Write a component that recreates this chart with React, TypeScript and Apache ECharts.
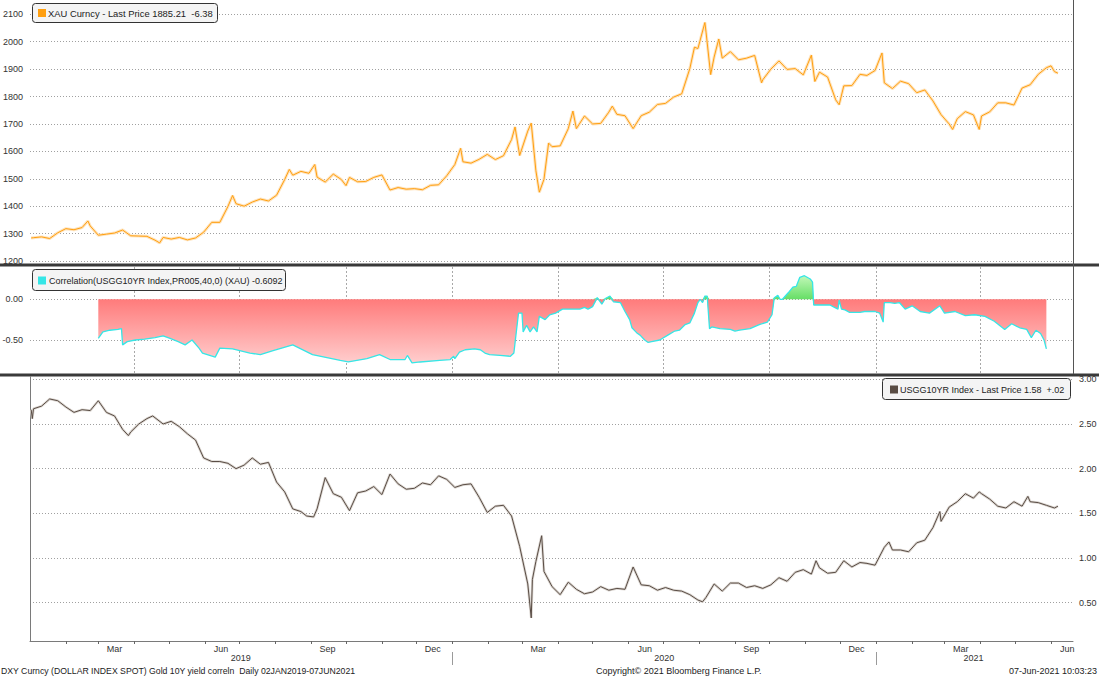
import { useEffect, useRef } from 'react';
import * as echarts from 'echarts';

// ---------- axis range (calendar days) ----------
const AXIS_START = '2019-01-01';
const AXIS_END = '2021-06-20';

// ---------- tick / label definitions ----------
const monthLabelNames: Record<string, string> = { '03': 'Mar', '06': 'Jun', '09': 'Sep', '12': 'Dec' };
const yearLabelDates = ['2019-07-02', '2020-07-02', '2021-03-26'];
const yearDividerDates = ['2020-01-01', '2021-01-01'];
const quarterMonths = ['01', '04', '07', '10'];

const goldTicks = [1200, 2100, 100];
const corrTicks = [-1, 0.5, 0.5];
const yieldTicks = [0, 3, 0.5];

// ---------- legend / footer texts ----------
const goldLegend = 'XAU Curncy - Last Price 1885.21  -6.38';
const corrLegend = 'Correlation(USGG10YR Index,PR005,40,0) (XAU) -0.6092';
const yieldLegend = 'USGG10YR Index - Last Price 1.58  +.02';
const footerLeft = 'DXY Curncy (DOLLAR INDEX SPOT) Gold 10Y yield correln  Daily 02JAN2019-07JUN2021';
const footerMid = 'Copyright\u00A9 2021 Bloomberg Finance L.P.';
const footerRight = '07-Jun-2021 10:03:23';

// ---------- XAU price ----------
const goldData: [string, number][] = [
  ['2019-01-02', 1284], ['2019-01-04', 1285], ['2019-01-11', 1288], ['2019-01-18', 1282],
  ['2019-01-25', 1303], ['2019-02-01', 1318], ['2019-02-08', 1314], ['2019-02-15', 1322],
  ['2019-02-20', 1346], ['2019-02-22', 1328], ['2019-03-01', 1294], ['2019-03-08', 1298],
  ['2019-03-15', 1302], ['2019-03-22', 1313], ['2019-03-29', 1292], ['2019-04-05', 1291],
  ['2019-04-12', 1290], ['2019-04-19', 1276], ['2019-04-23', 1266], ['2019-04-26', 1286],
  ['2019-05-03', 1280], ['2019-05-10', 1286], ['2019-05-17', 1277], ['2019-05-24', 1284],
  ['2019-05-31', 1305], ['2019-06-07', 1341], ['2019-06-14', 1341], ['2019-06-21', 1399],
  ['2019-06-25', 1439], ['2019-06-28', 1409], ['2019-07-05', 1400], ['2019-07-12', 1415],
  ['2019-07-19', 1426], ['2019-07-26', 1419], ['2019-08-02', 1440], ['2019-08-09', 1497],
  ['2019-08-13', 1534], ['2019-08-16', 1513], ['2019-08-23', 1527], ['2019-08-30', 1520],
  ['2019-09-04', 1552], ['2019-09-06', 1506], ['2019-09-13', 1488], ['2019-09-20', 1517],
  ['2019-09-27', 1497], ['2019-10-01', 1475], ['2019-10-04', 1505], ['2019-10-11', 1489],
  ['2019-10-18', 1490], ['2019-10-25', 1505], ['2019-11-01', 1514], ['2019-11-08', 1459],
  ['2019-11-15', 1468], ['2019-11-22', 1462], ['2019-11-29', 1464], ['2019-12-06', 1460],
  ['2019-12-13', 1476], ['2019-12-20', 1478], ['2019-12-27', 1511], ['2020-01-03', 1552],
  ['2020-01-08', 1611], ['2020-01-10', 1562], ['2020-01-17', 1557], ['2020-01-24', 1571],
  ['2020-01-31', 1589], ['2020-02-07', 1570], ['2020-02-14', 1584], ['2020-02-21', 1643],
  ['2020-02-24', 1689], ['2020-02-28', 1585], ['2020-03-06', 1674], ['2020-03-09', 1703],
  ['2020-03-13', 1530], ['2020-03-16', 1451], ['2020-03-20', 1498], ['2020-03-24', 1630],
  ['2020-03-27', 1617], ['2020-04-03', 1620], ['2020-04-10', 1683], ['2020-04-14', 1747],
  ['2020-04-17', 1683], ['2020-04-24', 1729], ['2020-05-01', 1700], ['2020-05-08', 1702],
  ['2020-05-15', 1743], ['2020-05-18', 1765], ['2020-05-22', 1735], ['2020-05-29', 1730],
  ['2020-06-05', 1683], ['2020-06-12', 1730], ['2020-06-19', 1743], ['2020-06-26', 1771],
  ['2020-07-03', 1775], ['2020-07-10', 1798], ['2020-07-17', 1810], ['2020-07-24', 1902],
  ['2020-07-28', 1980], ['2020-07-31', 1975], ['2020-08-06', 2070], ['2020-08-07', 2035],
  ['2020-08-11', 1880], ['2020-08-14', 1944], ['2020-08-18', 2010], ['2020-08-21', 1940],
  ['2020-08-28', 1964], ['2020-09-04', 1934], ['2020-09-11', 1940], ['2020-09-18', 1950],
  ['2020-09-24', 1850], ['2020-09-25', 1861], ['2020-10-02', 1900], ['2020-10-09', 1930],
  ['2020-10-16', 1899], ['2020-10-23', 1902], ['2020-10-30', 1879], ['2020-11-06', 1951],
  ['2020-11-09', 1855], ['2020-11-13', 1889], ['2020-11-20', 1871], ['2020-11-27', 1788],
  ['2020-11-30', 1770], ['2020-12-04', 1839], ['2020-12-11', 1840], ['2020-12-18', 1881],
  ['2020-12-24', 1877], ['2020-12-31', 1895], ['2021-01-06', 1959], ['2021-01-08', 1850],
  ['2021-01-15', 1829], ['2021-01-22', 1856], ['2021-01-29', 1847], ['2021-02-05', 1814],
  ['2021-02-12', 1824], ['2021-02-19', 1784], ['2021-02-26', 1734], ['2021-03-05', 1700],
  ['2021-03-08', 1680], ['2021-03-12', 1719], ['2021-03-19', 1745], ['2021-03-26', 1733],
  ['2021-03-31', 1680], ['2021-04-02', 1729], ['2021-04-09', 1744], ['2021-04-16', 1777],
  ['2021-04-23', 1777], ['2021-04-30', 1769], ['2021-05-07', 1831], ['2021-05-14', 1843],
  ['2021-05-21', 1881], ['2021-05-28', 1905], ['2021-06-01', 1912], ['2021-06-04', 1891],
  ['2021-06-07', 1885],
];

// ---------- rolling correlation ----------
const corrData: [string, number][] = [
  ['2019-03-01', -0.48], ['2019-03-05', -0.40], ['2019-03-11', -0.38], ['2019-03-18', -0.37],
  ['2019-03-21', -0.36], ['2019-03-22', -0.56], ['2019-03-26', -0.52], ['2019-04-02', -0.50],
  ['2019-04-10', -0.49], ['2019-04-19', -0.47], ['2019-04-26', -0.45], ['2019-05-02', -0.48],
  ['2019-05-09', -0.52], ['2019-05-15', -0.56], ['2019-05-21', -0.50], ['2019-05-27', -0.60],
  ['2019-05-30', -0.66], ['2019-06-10', -0.71], ['2019-06-14', -0.60], ['2019-06-25', -0.61],
  ['2019-07-10', -0.66], ['2019-07-19', -0.68], ['2019-07-30', -0.63], ['2019-08-16', -0.56],
  ['2019-09-02', -0.68], ['2019-09-26', -0.75], ['2019-10-03', -0.77], ['2019-10-19', -0.73],
  ['2019-10-30', -0.68], ['2019-11-08', -0.74], ['2019-11-21', -0.74], ['2019-11-23', -0.69],
  ['2019-11-27', -0.78], ['2019-12-04', -0.77], ['2019-12-21', -0.75], ['2019-12-30', -0.74],
  ['2020-01-02', -0.70], ['2020-01-03', -0.73], ['2020-01-07', -0.65], ['2020-01-12', -0.62],
  ['2020-01-20', -0.61], ['2020-01-25', -0.62], ['2020-01-29', -0.66], ['2020-02-02', -0.68],
  ['2020-02-11', -0.69], ['2020-02-20', -0.70], ['2020-02-23', -0.66], ['2020-02-27', -0.17],
  ['2020-03-01', -0.17], ['2020-03-02', -0.40], ['2020-03-05', -0.32], ['2020-03-08', -0.40],
  ['2020-03-11', -0.34], ['2020-03-14', -0.40], ['2020-03-16', -0.21], ['2020-03-21', -0.25],
  ['2020-03-25', -0.19], ['2020-03-30', -0.17], ['2020-04-05', -0.12], ['2020-04-11', -0.12],
  ['2020-04-20', -0.12], ['2020-04-24', -0.10], ['2020-04-27', -0.12], ['2020-05-01', -0.09],
  ['2020-05-05', 0.02], ['2020-05-07', -0.02], ['2020-05-09', -0.06], ['2020-05-12', 0.01],
  ['2020-05-16', 0.04], ['2020-05-19', -0.03], ['2020-05-25', -0.04], ['2020-05-29', -0.15],
  ['2020-06-02', -0.25], ['2020-06-04', -0.35], ['2020-06-08', -0.41], ['2020-06-11', -0.44],
  ['2020-06-15', -0.50], ['2020-06-18', -0.53], ['2020-06-21', -0.52], ['2020-06-28', -0.50],
  ['2020-07-05', -0.44], ['2020-07-11', -0.39], ['2020-07-15', -0.38], ['2020-07-20', -0.31],
  ['2020-07-24', -0.29], ['2020-07-28', -0.17], ['2020-07-31', -0.04], ['2020-08-02', 0.0],
  ['2020-08-04', -0.04], ['2020-08-06', 0.04], ['2020-08-08', 0.04], ['2020-08-10', -0.36],
  ['2020-08-12', -0.34], ['2020-08-19', -0.36], ['2020-08-28', -0.37], ['2020-09-01', -0.39],
  ['2020-09-05', -0.38], ['2020-09-14', -0.36], ['2020-09-22', -0.31], ['2020-09-29', -0.28],
  ['2020-10-03', -0.19], ['2020-10-05', 0.02], ['2020-10-08', 0.05], ['2020-10-10', 0.0],
  ['2020-10-12', 0.0], ['2020-10-17', 0.08], ['2020-10-21', 0.15], ['2020-10-24', 0.16],
  ['2020-10-27', 0.27], ['2020-10-31', 0.29], ['2020-11-05', 0.25], ['2020-11-07', 0.21],
  ['2020-11-08', -0.07], ['2020-11-13', -0.07], ['2020-11-22', -0.07], ['2020-11-26', -0.10],
  ['2020-11-29', -0.12], ['2020-11-30', -0.01], ['2020-12-02', -0.12], ['2020-12-05', -0.13],
  ['2020-12-09', -0.16], ['2020-12-18', -0.16], ['2020-12-22', -0.15], ['2020-12-31', -0.15],
  ['2021-01-04', -0.17], ['2021-01-07', -0.28], ['2021-01-08', -0.04], ['2021-01-13', -0.04],
  ['2021-01-17', -0.05], ['2021-01-21', -0.04], ['2021-01-26', -0.12], ['2021-02-01', -0.08],
  ['2021-02-08', -0.15], ['2021-02-16', -0.17], ['2021-02-25', -0.08], ['2021-03-01', -0.17],
  ['2021-03-10', -0.15], ['2021-03-19', -0.20], ['2021-03-27', -0.19], ['2021-04-05', -0.21],
  ['2021-04-13', -0.27], ['2021-04-22', -0.37], ['2021-04-28', -0.30], ['2021-05-05', -0.35],
  ['2021-05-11', -0.37], ['2021-05-15', -0.47], ['2021-05-19', -0.38], ['2021-05-23', -0.42],
  ['2021-05-26', -0.50], ['2021-05-28', -0.6092],
];

// ---------- US 10Y yield ----------
const yieldData: [string, number][] = [
  ['2019-01-02', 2.66], ['2019-01-03', 2.56], ['2019-01-04', 2.67], ['2019-01-11', 2.70],
  ['2019-01-18', 2.78], ['2019-01-25', 2.76], ['2019-02-01', 2.69], ['2019-02-08', 2.63],
  ['2019-02-15', 2.66], ['2019-02-22', 2.65], ['2019-03-01', 2.76], ['2019-03-08', 2.63],
  ['2019-03-15', 2.59], ['2019-03-22', 2.44], ['2019-03-27', 2.37], ['2019-03-29', 2.41],
  ['2019-04-05', 2.50], ['2019-04-12', 2.56], ['2019-04-17', 2.59], ['2019-04-26', 2.50],
  ['2019-05-03', 2.53], ['2019-05-10', 2.47], ['2019-05-17', 2.39], ['2019-05-24', 2.32],
  ['2019-05-31', 2.12], ['2019-06-07', 2.08], ['2019-06-14', 2.08], ['2019-06-21', 2.06],
  ['2019-06-28', 2.00], ['2019-07-05', 2.04], ['2019-07-12', 2.12], ['2019-07-19', 2.05],
  ['2019-07-26', 2.07], ['2019-08-02', 1.85], ['2019-08-09', 1.74], ['2019-08-16', 1.55],
  ['2019-08-23', 1.52], ['2019-08-28', 1.47], ['2019-09-03', 1.46], ['2019-09-06', 1.55],
  ['2019-09-13', 1.90], ['2019-09-20', 1.72], ['2019-09-27', 1.68], ['2019-10-04', 1.53],
  ['2019-10-11', 1.73], ['2019-10-18', 1.75], ['2019-10-25', 1.80], ['2019-11-01', 1.71],
  ['2019-11-08', 1.94], ['2019-11-15', 1.83], ['2019-11-22', 1.77], ['2019-11-29', 1.78],
  ['2019-12-06', 1.84], ['2019-12-13', 1.82], ['2019-12-20', 1.92], ['2019-12-27', 1.88],
  ['2020-01-03', 1.79], ['2020-01-10', 1.82], ['2020-01-17', 1.83], ['2020-01-24', 1.68],
  ['2020-01-31', 1.51], ['2020-02-07', 1.58], ['2020-02-14', 1.59], ['2020-02-21', 1.47],
  ['2020-02-28', 1.13], ['2020-03-06', 0.71], ['2020-03-09', 0.33], ['2020-03-10', 0.76],
  ['2020-03-13', 0.96], ['2020-03-18', 1.25], ['2020-03-20', 0.85], ['2020-03-27', 0.68],
  ['2020-04-03', 0.59], ['2020-04-10', 0.73], ['2020-04-17', 0.65], ['2020-04-24', 0.60],
  ['2020-05-01', 0.62], ['2020-05-08', 0.68], ['2020-05-15', 0.64], ['2020-05-22', 0.66],
  ['2020-05-29', 0.65], ['2020-06-05', 0.90], ['2020-06-12', 0.70], ['2020-06-19', 0.69],
  ['2020-06-26', 0.64], ['2020-07-03', 0.67], ['2020-07-10', 0.64], ['2020-07-17', 0.63],
  ['2020-07-24', 0.59], ['2020-07-31', 0.53], ['2020-08-04', 0.51], ['2020-08-07', 0.56],
  ['2020-08-14', 0.71], ['2020-08-21', 0.63], ['2020-08-28', 0.72], ['2020-09-04', 0.72],
  ['2020-09-11', 0.67], ['2020-09-18', 0.69], ['2020-09-25', 0.66], ['2020-10-02', 0.70],
  ['2020-10-09', 0.78], ['2020-10-16', 0.74], ['2020-10-23', 0.84], ['2020-10-30', 0.87],
  ['2020-11-06', 0.82], ['2020-11-10', 0.97], ['2020-11-13', 0.89], ['2020-11-20', 0.83],
  ['2020-11-27', 0.84], ['2020-12-04', 0.97], ['2020-12-11', 0.90], ['2020-12-18', 0.95],
  ['2020-12-24', 0.94], ['2020-12-31', 0.92], ['2021-01-08', 1.12], ['2021-01-12', 1.18],
  ['2021-01-15', 1.09], ['2021-01-22', 1.09], ['2021-01-29', 1.07], ['2021-02-05', 1.17],
  ['2021-02-12', 1.20], ['2021-02-19', 1.34], ['2021-02-25', 1.52], ['2021-02-26', 1.41],
  ['2021-03-05', 1.57], ['2021-03-12', 1.63], ['2021-03-19', 1.72], ['2021-03-26', 1.67],
  ['2021-03-31', 1.74], ['2021-04-02', 1.72], ['2021-04-09', 1.66], ['2021-04-16', 1.58],
  ['2021-04-23', 1.56], ['2021-04-30', 1.63], ['2021-05-07', 1.58], ['2021-05-12', 1.69],
  ['2021-05-14', 1.63], ['2021-05-21', 1.62], ['2021-05-28', 1.59], ['2021-06-04', 1.56],
  ['2021-06-07', 1.58],
];

// ---------- helpers ----------
function buildDays(start: string, end: string): string[] {
  const out: string[] = [];
  const [sy, sm, sd] = start.split('-').map(Number);
  const [ey, em, ed] = end.split('-').map(Number);
  let t = Date.UTC(sy, sm - 1, sd);
  const tEnd = Date.UTC(ey, em - 1, ed);
  while (t <= tEnd) {
    const d = new Date(t);
    out.push(
      `${d.getUTCFullYear()}-${String(d.getUTCMonth() + 1).padStart(2, '0')}-${String(d.getUTCDate()).padStart(2, '0')}`
    );
    t += 86400000;
  }
  return out;
}

const FONT = '"Liberation Sans", Arial, sans-serif';
const GOLD = '#ff9f10';
const GOLD_LIGHT = '#fee3bd';
const CYAN = '#36e6e6';
const YIELD = '#594c44';
const YIELD_LIGHT = '#dcd7d2';

function buildOption() {
  const days = buildDays(AXIS_START, AXIS_END);
  const corrNeg = corrData.map(([d, v]) => [d, Math.min(v, 0)]);
  const corrPos = corrData.map(([d, v]) => [d, Math.max(v, 0)]);

  const hiddenX = (gridIndex: number) => ({
    type: 'category', gridIndex, data: days, boundaryGap: false, show: false,
  });
  const labelStyle = { color: '#333', fontSize: 9, fontFamily: FONT };
  const dotted = { color: '#a0a0a0', type: [1, 2], width: 1 };

  const gridBase = { left: 30, right: 26, containLabel: false, outerBoundsMode: 'none' };

  return {
    animation: false,
    backgroundColor: '#ffffff',
    grid: [
      { ...gridBase, top: 14.3, height: 246.7 },
      { ...gridBase, top: 258.6, height: 122.1 },
      { ...gridBase, top: 267, height: 106.5 },
      { ...gridBase, top: 379.3, height: 268.1 },
      { ...gridBase, top: 377, height: 264 },
    ],
    xAxis: [
      hiddenX(0),
      hiddenX(1),
      {
        type: 'category', gridIndex: 2, data: days, boundaryGap: false,
        axisLine: { show: false }, axisTick: { show: false }, axisLabel: { show: false },
        splitLine: {
          show: true,
          interval: (i: number, v: string) => i > 0 && v.slice(8) === '01' && quarterMonths.includes(v.slice(5, 7)),
          lineStyle: { color: '#a8a8a8', type: [2, 2], width: 1 },
        },
      },
      hiddenX(3),
      {
        type: 'category', gridIndex: 4, data: days, boundaryGap: false, position: 'bottom',
        axisLine: { show: true, lineStyle: { color: '#7a7a7a', width: 1 } },
        axisTick: {
          show: true, length: 3, inside: false,
          interval: (i: number, v: string) => i > 0 && v.slice(8) === '01',
          lineStyle: { color: '#666' },
        },
        axisLabel: {
          ...labelStyle, margin: 3,
          interval: (_i: number, v: string) => v.slice(8) === '15' && !!monthLabelNames[v.slice(5, 7)],
          formatter: (v: string) => monthLabelNames[v.slice(5, 7)] || '',
        },
        splitLine: { show: false },
      },
      {
        type: 'category', gridIndex: 4, data: days, boundaryGap: false, position: 'bottom', offset: 11,
        axisLine: { show: false },
        axisTick: {
          show: true, length: 13, inside: false,
          interval: (_i: number, v: string) => yearDividerDates.includes(v),
          lineStyle: { color: '#9a9a9a' },
        },
        axisLabel: {
          ...labelStyle, margin: 1,
          interval: (_i: number, v: string) => yearLabelDates.includes(v),
          formatter: (v: string) => v.slice(0, 4),
        },
        splitLine: { show: false },
      },
    ],
    yAxis: [
      {
        type: 'value', gridIndex: 0, min: goldTicks[0], max: goldTicks[1], interval: goldTicks[2],
        axisLine: { show: false }, axisTick: { show: false },
        axisLabel: { ...labelStyle, margin: 7, formatter: (v: number) => String(v) },
        splitLine: { show: true, lineStyle: dotted },
      },
      {
        type: 'value', gridIndex: 1, min: corrTicks[0], max: corrTicks[1], interval: corrTicks[2],
        axisLine: { show: false }, axisTick: { show: false },
        axisLabel: {
          ...labelStyle, margin: 7, showMinLabel: false, showMaxLabel: false,
          formatter: (v: number) => v.toFixed(2),
        },
        splitLine: { show: true, showMinLine: false, showMaxLine: false, lineStyle: dotted },
      },
      { type: 'value', gridIndex: 2, min: 0, max: 1, show: false },
      {
        type: 'value', gridIndex: 3, position: 'right', min: yieldTicks[0], max: yieldTicks[1], interval: yieldTicks[2],
        axisLine: { show: false }, axisTick: { show: false },
        axisLabel: {
          ...labelStyle, margin: 6, showMinLabel: false,
          formatter: (v: number) => v.toFixed(2),
        },
        splitLine: { show: true, showMinLine: false, lineStyle: dotted },
      },
      {
        type: 'value', gridIndex: 4, position: 'left', min: 0, max: 1,
        axisLine: { show: true, lineStyle: { color: '#7a7a7a', width: 1 } },
        axisTick: { show: false }, axisLabel: { show: false }, splitLine: { show: false },
      },
    ],
    series: [
      {
        type: 'line', xAxisIndex: 0, yAxisIndex: 0, data: goldData, symbol: 'none', silent: true,
        lineStyle: { color: GOLD_LIGHT, width: 3 }, z: 1, emphasis: { disabled: true },
      },
      {
        type: 'line', xAxisIndex: 0, yAxisIndex: 0, data: goldData, symbol: 'none', silent: true,
        lineStyle: { color: GOLD, width: 1 }, z: 2, emphasis: { disabled: true },
      },
      {
        type: 'line', xAxisIndex: 1, yAxisIndex: 1, data: corrNeg, symbol: 'none', silent: true,
        lineStyle: { width: 0, opacity: 0 }, z: 2, emphasis: { disabled: true },
        areaStyle: {
          opacity: 1,
          color: new echarts.graphic.LinearGradient(0, 0, 0, 1, [
            { offset: 0, color: '#ff7b7b' },
            { offset: 1, color: '#ffcdcd' },
          ]),
        },
      },
      {
        type: 'line', xAxisIndex: 1, yAxisIndex: 1, data: corrPos, symbol: 'none', silent: true,
        lineStyle: { width: 0, opacity: 0 }, z: 2, emphasis: { disabled: true },
        areaStyle: {
          opacity: 1,
          color: new echarts.graphic.LinearGradient(0, 0, 0, 1, [
            { offset: 0, color: '#c2f8b8' },
            { offset: 1, color: '#66de66' },
          ]),
        },
      },
      {
        type: 'line', xAxisIndex: 1, yAxisIndex: 1, data: corrData, symbol: 'none', silent: true,
        lineStyle: { color: CYAN, width: 1.3 }, z: 3, emphasis: { disabled: true },
      },
      {
        type: 'line', xAxisIndex: 3, yAxisIndex: 3, data: yieldData, symbol: 'none', silent: true,
        lineStyle: { color: YIELD_LIGHT, width: 2.6 }, z: 1, emphasis: { disabled: true },
      },
      {
        type: 'line', xAxisIndex: 3, yAxisIndex: 3, data: yieldData, symbol: 'none', silent: true,
        lineStyle: { color: YIELD, width: 1 }, z: 2, emphasis: { disabled: true },
      },
    ],
    graphic: [
      // panel dividers and right frame
      { type: 'rect', z: 100, shape: { x: 0, y: 263.5, width: 1099, height: 3 }, style: { fill: '#3a3a3a' } },
      { type: 'rect', z: 100, shape: { x: 0, y: 373.5, width: 1099, height: 3 }, style: { fill: '#3a3a3a' } },
      { type: 'line', z: 100, shape: { x1: 1073.5, y1: 0, x2: 1073.5, y2: 374 }, style: { stroke: '#555', lineWidth: 1 } },
      // legend: gold
      { type: 'rect', z: 110, shape: { x: 32.5, y: 3.5, width: 185, height: 19, r: 3 }, style: { fill: '#f4f4f4', stroke: '#333', lineWidth: 1 } },
      { type: 'rect', z: 111, shape: { x: 38, y: 9, width: 8, height: 8 }, style: { fill: GOLD } },
      { type: 'text', z: 111, x: 48, y: 13.5, style: { text: goldLegend, font: `9.4px ${FONT}`, fill: '#222', textVerticalAlign: 'middle', textAlign: 'left' } },
      // legend: correlation
      { type: 'rect', z: 110, shape: { x: 32.5, y: 269.5, width: 253, height: 21, r: 3 }, style: { fill: '#f4f4f4', stroke: '#333', lineWidth: 1 } },
      { type: 'rect', z: 111, shape: { x: 38, y: 276.5, width: 8, height: 8 }, style: { fill: CYAN } },
      { type: 'text', z: 111, x: 49, y: 280.5, style: { text: corrLegend, font: `9px ${FONT}`, fill: '#222', textVerticalAlign: 'middle', textAlign: 'left' } },
      // legend: yield
      { type: 'rect', z: 110, shape: { x: 882.5, y: 378.5, width: 188, height: 21, r: 3 }, style: { fill: '#f4f4f4', stroke: '#333', lineWidth: 1 } },
      { type: 'rect', z: 111, shape: { x: 890, y: 385.5, width: 8, height: 8 }, style: { fill: YIELD } },
      { type: 'text', z: 111, x: 900, y: 389.5, style: { text: yieldLegend, font: `9px ${FONT}`, fill: '#222', textVerticalAlign: 'middle', textAlign: 'left' } },
      // footer
      { type: 'text', z: 111, x: 1, y: 671, style: { text: footerLeft, font: `8.7px ${FONT}`, fill: '#222', textVerticalAlign: 'middle', textAlign: 'left' } },
      { type: 'text', z: 111, x: 596, y: 671, style: { text: footerMid, font: `9px ${FONT}`, fill: '#222', textVerticalAlign: 'middle', textAlign: 'left' } },
      { type: 'text', z: 111, x: 1097, y: 671, style: { text: footerRight, font: `9px ${FONT}`, fill: '#222', textVerticalAlign: 'middle', textAlign: 'right' } },
    ],
  };
}

export default function App() {
  const ref = useRef<HTMLDivElement>(null);
  useEffect(() => {
    if (!ref.current) return;
    const chart = echarts.init(ref.current, null, { renderer: 'svg' });
    chart.setOption(buildOption() as any);
    return () => chart.dispose();
  }, []);
  return (
    <div
      ref={ref}
      style={{ position: 'fixed', left: 0, top: 0, width: 1099, height: 676, background: '#fff' }}
    />
  );
}
